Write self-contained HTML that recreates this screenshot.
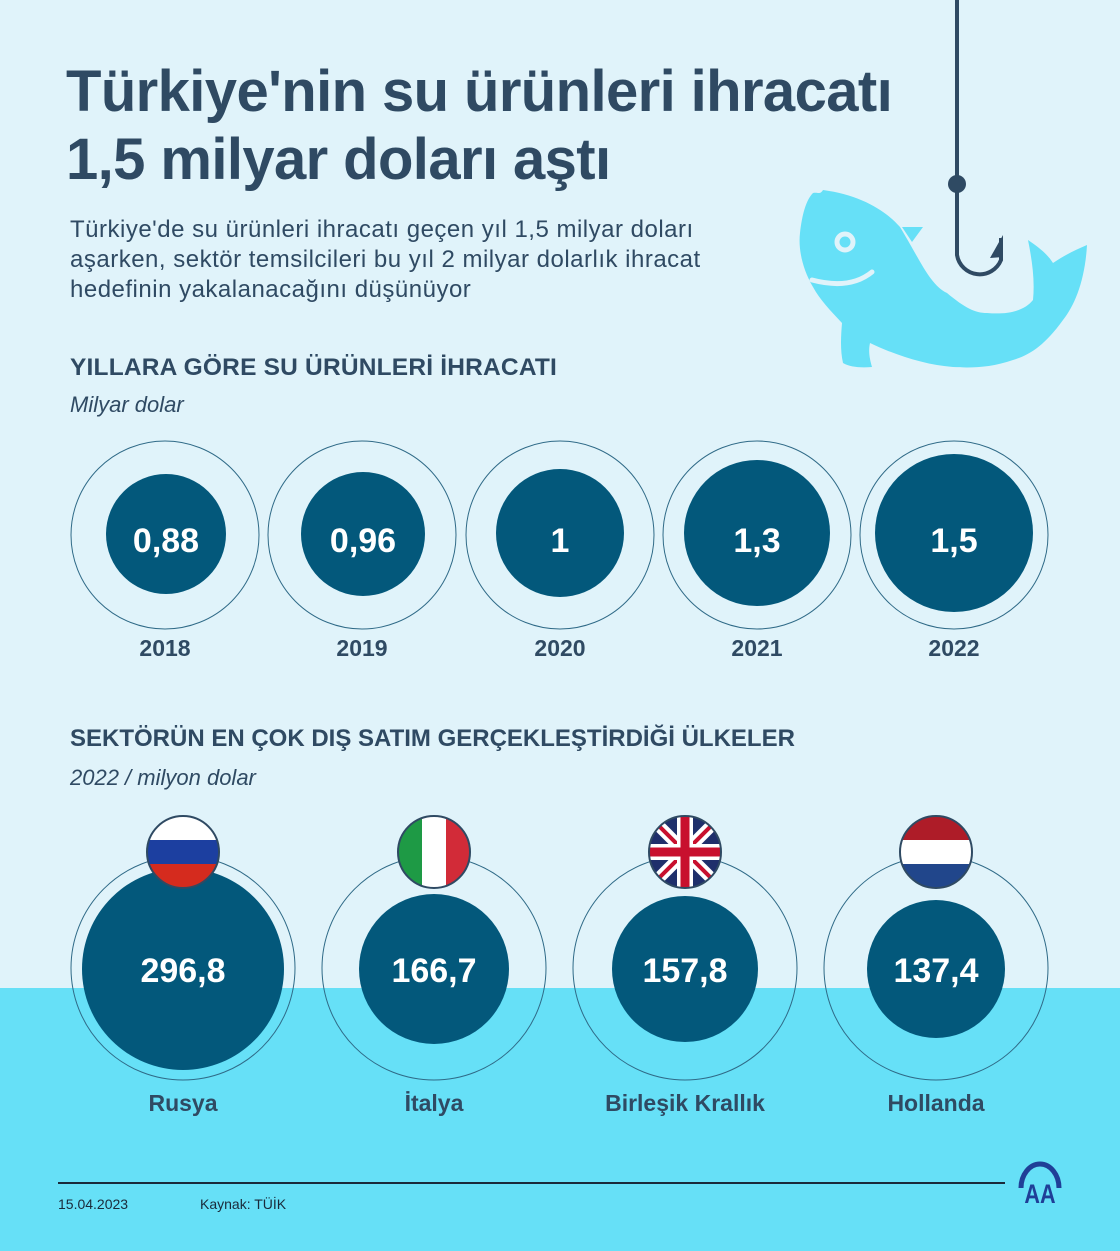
<!DOCTYPE html>
<html><head><meta charset="utf-8"><style>
body{margin:0;width:1120px;height:1251px;position:relative;overflow:hidden;background:#e0f3fa;font-family:"Liberation Sans",sans-serif;color:#2f4a63}
.a{position:absolute;white-space:nowrap}
</style></head><body>
<div class="a" style="left:0;top:988px;width:1120px;height:263px;background:#66e0f7"></div>
<div class="a" style="left:66px;top:58px;font-size:58px;font-weight:bold;line-height:68px;letter-spacing:-0.6px">Türkiye'nin su ürünleri ihracatı<br>1,5 milyar doları aştı</div>
<div class="a" style="left:70px;top:215px;font-size:24px;line-height:30px;letter-spacing:0.5px">Türkiye'de su ürünleri ihracatı geçen yıl 1,5 milyar doları<br>aşarken, sektör temsilcileri bu yıl 2 milyar dolarlık ihracat<br>hedefinin yakalanacağını düşünüyor</div>
<div class="a" style="left:70px;top:354px;font-size:24.5px;font-weight:bold;letter-spacing:0.2px">YILLARA GÖRE SU ÜRÜNLERİ İHRACATI</div>
<div class="a" style="left:70px;top:392px;font-size:22px;font-style:italic">Milyar dolar</div>
<div class="a" style="left:70px;top:725px;font-size:24px;font-weight:bold;letter-spacing:0px">SEKTÖRÜN EN ÇOK DIŞ SATIM GERÇEKLEŞTİRDİĞİ ÜLKELER</div>
<div class="a" style="left:70px;top:765px;font-size:22px;font-style:italic">2022 / milyon dolar</div>
<svg class="a" style="left:0;top:0" width="1120" height="1251">
<path d="M823 190 C860 195 885 210 900 227 C920 260 930 285 947 293 C965 308 975 313 987 313 C1010 315 1025 310 1033 300 C1035 280 1032 260 1028 240 C1040 248 1048 255 1053 263 C1065 255 1075 250 1087 245 C1085 280 1075 305 1063 320 C1045 345 1030 355 1013 360 C990 368 970 368 953 367 C925 365 895 355 870 343 C868 352 870 360 872 367 C860 368 850 367 843 363 C840 350 841 335 842 323 C830 310 820 300 813 287 C803 270 798 250 800 233 C802 215 806 200 813 193 C818 192 820 195 823 190Z" fill="#66e0f7"/>
<path d="M902 227 L923 227 L912 242Z" fill="#66e0f7"/>
<circle cx="845" cy="242" r="8" fill="none" stroke="#e0f3fa" stroke-width="5"/>
<path d="M812 280 Q850 290 872 272" fill="none" stroke="#e0f3fa" stroke-width="5" stroke-linecap="round"/>
<g fill="none" stroke="#2f4a63" stroke-width="4"><path d="M957 0V255a23 23 0 0 0 44 5V238"/></g>
<circle cx="957" cy="184" r="9" fill="#2f4a63"/>
<path d="M1003 235l0 22 -13 1z" fill="#2f4a63"/>
<g stroke="#2f6a87" stroke-width="1" fill="none">
<circle cx="165" cy="535" r="94"/><circle cx="362" cy="535" r="94"/><circle cx="560" cy="535" r="94"/><circle cx="757" cy="535" r="94"/><circle cx="954" cy="535" r="94"/>
<circle cx="183" cy="968" r="112"/><circle cx="434" cy="968" r="112"/><circle cx="685" cy="968" r="112"/><circle cx="936" cy="968" r="112"/>
</g>
<g fill="#03587b">
<circle cx="166" cy="534" r="60"/><circle cx="363" cy="534" r="62"/><circle cx="560" cy="533" r="64"/><circle cx="757" cy="533" r="73"/><circle cx="954" cy="533" r="79"/>
<circle cx="183" cy="969" r="101"/><circle cx="434" cy="969" r="75"/><circle cx="685" cy="969" r="73"/><circle cx="936" cy="969" r="69"/>
</g>
<g font-family="Liberation Sans" font-weight="bold" fill="#fff" text-anchor="middle" font-size="34">
<text x="166" y="552">0,88</text><text x="363" y="552">0,96</text><text x="560" y="552">1</text><text x="757" y="552">1,3</text><text x="954" y="552">1,5</text>
<text x="183" y="982">296,8</text><text x="434" y="982">166,7</text><text x="685" y="982">157,8</text><text x="936" y="982">137,4</text>
</g>
<g font-family="Liberation Sans" font-weight="bold" fill="#2f4a63" text-anchor="middle" font-size="23">
<text x="165" y="656">2018</text><text x="362" y="656">2019</text><text x="560" y="656">2020</text><text x="757" y="656">2021</text><text x="954" y="656">2022</text>
<text x="183" y="1111">Rusya</text><text x="434" y="1111">İtalya</text><text x="685" y="1111">Birleşik Krallık</text><text x="936" y="1111">Hollanda</text>
</g>
<defs>
<clipPath id="c1"><circle cx="183" cy="852" r="36"/></clipPath>
<clipPath id="c2"><circle cx="434" cy="852" r="36"/></clipPath>
<clipPath id="c3"><circle cx="685" cy="852" r="36"/></clipPath>
<clipPath id="c4"><circle cx="936" cy="852" r="36"/></clipPath>
</defs>
<g clip-path="url(#c1)"><rect x="147" y="816" width="72" height="24" fill="#fff"/><rect x="147" y="840" width="72" height="24" fill="#1c3fa0"/><rect x="147" y="864" width="72" height="24" fill="#d52b1e"/></g>
<g clip-path="url(#c2)"><rect x="398" y="816" width="24" height="72" fill="#1e9a45"/><rect x="422" y="816" width="24" height="72" fill="#fff"/><rect x="446" y="816" width="24" height="72" fill="#d22b38"/></g>
<g clip-path="url(#c3)"><rect x="649" y="816" width="72" height="72" fill="#1f2f6b"/><path d="M649 816L721 888M721 816L649 888" stroke="#fff" stroke-width="12"/><path d="M649 816L721 888M721 816L649 888" stroke="#c8102e" stroke-width="4"/><path d="M685 816V888M649 852H721" stroke="#fff" stroke-width="16"/><path d="M685 816V888M649 852H721" stroke="#c8102e" stroke-width="9"/></g>
<g clip-path="url(#c4)"><rect x="900" y="816" width="72" height="24" fill="#ae1c28"/><rect x="900" y="840" width="72" height="24" fill="#fff"/><rect x="900" y="864" width="72" height="24" fill="#21468b"/></g>
<g fill="none" stroke="#2f4a63" stroke-width="2"><circle cx="183" cy="852" r="36"/><circle cx="434" cy="852" r="36"/><circle cx="685" cy="852" r="36"/><circle cx="936" cy="852" r="36"/></g>
<line x1="58" y1="1183" x2="1005" y2="1183" stroke="#1a2a3a" stroke-width="2"/>
<text x="58" y="1209" font-family="Liberation Sans" font-size="14" fill="#1a2a3a">15.04.2023</text>
<text x="200" y="1209" font-family="Liberation Sans" font-size="14" fill="#1a2a3a">Kaynak: TÜİK</text>
<path d="M1021 1188 a19 24 0 0 1 38 0" fill="none" stroke="#1f3f97" stroke-width="5"/>
<text x="1040" y="1203" text-anchor="middle" font-family="Liberation Sans" font-weight="bold" font-size="27" fill="#1f3f97" transform="translate(1040 0) scale(0.8 1) translate(-1040 0)">AA</text>
</svg>
</body></html>
